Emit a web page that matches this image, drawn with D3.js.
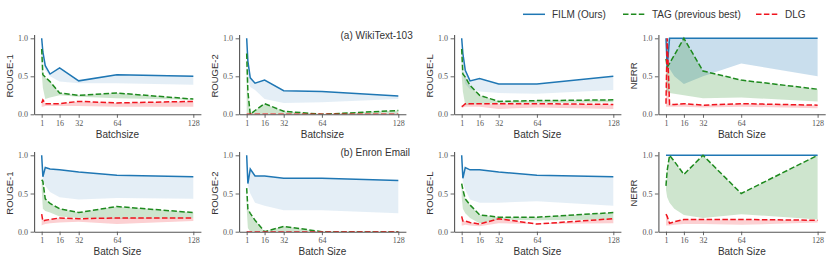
<!DOCTYPE html>
<html>
<head>
<meta charset="utf-8">
<script src="https://cdn.jsdelivr.net/npm/d3@7"></script>
<style>
  body { margin: 0; background: #fff; }
  text { font-family: "Liberation Sans", Arial, sans-serif; fill: #333; }
  .tick text { font-family: "Liberation Serif", serif; fill: #555; }
</style>
</head>
<body>
<svg id="chart" width="831" height="263"></svg>
<script>
// batch sizes on the x axis
const batch = [1, 2, 4, 8, 16, 32, 64, 128];
const xTicks = [1, 16, 32, 64, 128];
const yTicks = [0, 0.5, 1.0];

// (a) WikiText-103
const wikiR1Film   = [1.00, 0.82, 0.64, 0.53, 0.61, 0.44, 0.52, 0.50];
const wikiR1FilmLo = [0.95, 0.70, 0.58, 0.50, 0.43, 0.41, 0.41, 0.39];
const wikiR1FilmHi = [1.00, 0.82, 0.64, 0.53, 0.61, 0.44, 0.53, 0.51];
const wikiR1Tag    = [0.86, 0.52, 0.49, 0.43, 0.28, 0.25, 0.28, 0.20];
const wikiR1TagLo  = [0.55, 0.35, 0.20, 0.22, 0.25, 0.23, 0.21, 0.19];
const wikiR1Dlg    = [0.15, 0.19, 0.14, 0.14, 0.14, 0.17, 0.15, 0.17];
const wikiR1DlgLo  = [0.10, 0.10, 0.11, 0.11, 0.11, 0.11, 0.10, 0.10];

const wikiR2Film   = [1.00, 0.70, 0.48, 0.41, 0.45, 0.31, 0.30, 0.24];
const wikiR2FilmLo = [0.90, 0.45, 0.36, 0.32, 0.20, 0.15, 0.16, 0.20];
const wikiR2Tag    = [0.80, 0.30, 0.00, 0.05, 0.14, 0.04, 0.00, 0.05];
const wikiR2TagLo  = [0.00, 0.00, 0.00, 0.00, 0.00, 0.00, 0.00, 0.00];
const wikiR2Dlg    = [0.00, 0.00, 0.00, 0.00, 0.00, 0.00, 0.00, 0.00];
const wikiR2DlgLo  = [0.00, 0.00, 0.00, 0.00, 0.00, 0.00, 0.00, 0.00];

const wikiRLFilm   = [1.00, 0.80, 0.58, 0.44, 0.47, 0.40, 0.40, 0.50];
const wikiRLFilmLo = [0.90, 0.60, 0.40, 0.33, 0.30, 0.28, 0.27, 0.32];
const wikiRLTag    = [0.86, 0.53, 0.49, 0.38, 0.25, 0.17, 0.18, 0.19];
const wikiRLTagLo  = [0.50, 0.30, 0.12, 0.13, 0.14, 0.15, 0.15, 0.16];
const wikiRLDlg    = [0.10, 0.11, 0.14, 0.14, 0.14, 0.14, 0.14, 0.13];
const wikiRLDlgLo  = [0.08, 0.09, 0.10, 0.10, 0.10, 0.07, 0.09, 0.07];

const wikiNeFilm   = [1.00, 0.62, 1.00, 1.00, 1.00, 1.00, 1.00, 1.00];
const wikiNeFilmLo = [0.60, 0.55, 0.60, 0.50, 0.40, 0.50, 0.67, 0.50];
const wikiNeFilmHi = [1.00, 1.00, 1.00, 1.00, 1.00, 1.00, 1.00, 1.00];
const wikiNeTag    = [0.73, 0.62, 0.67, 0.78, 1.00, 0.57, 0.45, 0.33];
const wikiNeTagLo  = [0.30, 0.29, 0.28, 0.27, 0.25, 0.21, 0.22, 0.17];
const wikiNeDlg    = [0.14, 1.00, 0.13, 0.13, 0.14, 0.12, 0.14, 0.12];
const wikiNeDlgLo  = [0.10, 0.10, 0.10, 0.10, 0.10, 0.09, 0.10, 0.08];

// (b) Enron Email
const enronR1Film   = [1.00, 0.72, 0.84, 0.82, 0.81, 0.78, 0.74, 0.72];
const enronR1FilmLo = [0.95, 0.66, 0.60, 0.52, 0.45, 0.42, 0.44, 0.43];
const enronR1Tag    = [0.68, 0.66, 0.43, 0.37, 0.30, 0.25, 0.33, 0.25];
const enronR1TagLo  = [0.55, 0.30, 0.27, 0.25, 0.20, 0.18, 0.17, 0.18];
const enronR1Dlg    = [0.23, 0.14, 0.15, 0.16, 0.18, 0.17, 0.18, 0.18];
const enronR1DlgLo  = [0.08, 0.09, 0.10, 0.11, 0.12, 0.13, 0.10, 0.14];

const enronR2Film   = [1.00, 0.63, 0.82, 0.73, 0.73, 0.70, 0.70, 0.67];
const enronR2FilmLo = [0.90, 0.60, 0.50, 0.38, 0.34, 0.28, 0.28, 0.24];
const enronR2Tag    = [0.57, 0.30, 0.24, 0.15, 0.00, 0.07, 0.00, 0.00];
const enronR2TagLo  = [0.30, 0.05, 0.00, 0.00, 0.00, 0.00, 0.00, 0.00];
const enronR2Dlg    = [0.00, 0.00, 0.00, 0.00, 0.00, 0.00, 0.00, 0.00];
const enronR2DlgLo  = [0.00, 0.00, 0.00, 0.00, 0.00, 0.00, 0.00, 0.00];

const enronRLFilm   = [1.00, 0.70, 0.84, 0.81, 0.81, 0.78, 0.74, 0.72];
const enronRLFilmLo = [0.95, 0.65, 0.55, 0.42, 0.38, 0.38, 0.40, 0.34];
const enronRLTag    = [0.63, 0.55, 0.43, 0.35, 0.22, 0.19, 0.19, 0.25];
const enronRLTagLo  = [0.45, 0.30, 0.24, 0.18, 0.11, 0.16, 0.15, 0.16];
const enronRLDlg    = [0.20, 0.14, 0.14, 0.12, 0.10, 0.17, 0.10, 0.17];
const enronRLDlgLo  = [0.08, 0.08, 0.09, 0.08, 0.07, 0.11, 0.10, 0.11];

const enronNeFilm   = [1.00, 1.00, 1.00, 1.00, 1.00, 1.00, 1.00, 1.00];
const enronNeFilmLo = [1.00, 1.00, 1.00, 1.00, 1.00, 1.00, 1.00, 1.00];
const enronNeTag    = [0.60, 0.80, 1.00, 0.92, 0.75, 1.00, 0.50, 1.00];
const enronNeTagLo  = [0.55, 0.45, 0.38, 0.30, 0.22, 0.18, 0.23, 0.16];
const enronNeDlg    = [0.23, 0.20, 0.11, 0.13, 0.16, 0.16, 0.16, 0.15];
const enronNeDlgLo  = [0.08, 0.08, 0.08, 0.09, 0.10, 0.10, 0.09, 0.12];

const methods = ['FILM (Ours)', 'TAG (previous best)', 'DLG'];
const yLabels = ['ROUGE-1', 'ROUGE-2', 'ROUGE-L', 'NERR'];
const xLabelsTop = ['Batchsize', 'Batchsize', 'Batch Size', 'Batch Size'];
const xLabelsBottom = ['Batch Size', 'Batch Size', 'Batch Size', 'Batch Size'];
const captions = ['(a) WikiText-103', '(b) Enron Email'];

const rows = [
  [
    {film: wikiR1Film, filmLo: wikiR1FilmLo, filmHi: wikiR1FilmHi, tag: wikiR1Tag, tagLo: wikiR1TagLo, dlg: wikiR1Dlg, dlgLo: wikiR1DlgLo},
    {film: wikiR2Film, filmLo: wikiR2FilmLo, tag: wikiR2Tag, tagLo: wikiR2TagLo, dlg: wikiR2Dlg, dlgLo: wikiR2DlgLo},
    {film: wikiRLFilm, filmLo: wikiRLFilmLo, tag: wikiRLTag, tagLo: wikiRLTagLo, dlg: wikiRLDlg, dlgLo: wikiRLDlgLo},
    {film: wikiNeFilm, filmLo: wikiNeFilmLo, filmHi: wikiNeFilmHi, tag: wikiNeTag, tagLo: wikiNeTagLo, dlg: wikiNeDlg, dlgLo: wikiNeDlgLo, blueAlpha: 0.24}
  ],
  [
    {film: enronR1Film, filmLo: enronR1FilmLo, tag: enronR1Tag, tagLo: enronR1TagLo, dlg: enronR1Dlg, dlgLo: enronR1DlgLo},
    {film: enronR2Film, filmLo: enronR2FilmLo, tag: enronR2Tag, tagLo: enronR2TagLo, dlg: enronR2Dlg, dlgLo: enronR2DlgLo},
    {film: enronRLFilm, filmLo: enronRLFilmLo, tag: enronRLTag, tagLo: enronRLTagLo, dlg: enronRLDlg, dlgLo: enronRLDlgLo},
    {film: enronNeFilm, filmLo: enronNeFilmLo, tag: enronNeTag, tagLo: enronNeTagLo, dlg: enronNeDlg, dlgLo: enronNeDlgLo}
  ]
];

// layout
const colLeft = [34.1, 239.1, 454.1, 658.4];
const axW = 166.8;
const rowBase = [114.3, 231.7];   // pixel of y = 0
const rowUnit = [76, 76.4];       // pixels per 1.0
const colors = {film: '#1f77b4', tag: '#1e8a1e', dlg: '#f0141e'};
const dash = '5.5,2.4';

const svg = d3.select('#chart');

rows.forEach((row, r) => {
  row.forEach((p, c) => {
    const x = d3.scaleLinear().domain([-5.35, 134.35]).range([colLeft[c], colLeft[c] + axW]);
    const y = d3.scaleLinear().domain([0, 1.05]).range([rowBase[r], rowBase[r] - rowUnit[r] * 1.05]);
    const g = svg.append('g');
    const clipId = `clip-${r}-${c}`;
    g.append('clipPath').attr('id', clipId).append('rect')
      .attr('x', x.range()[0]).attr('y', y.range()[1])
      .attr('width', axW).attr('height', y.range()[0] - y.range()[1]);
    const plot = g.append('g').attr('clip-path', `url(#${clipId})`);

    const area = (lo, hi) => d3.area()
      .x((d, i) => x(batch[i]))
      .y0((d, i) => y(lo[i]))
      .y1((d, i) => y(hi[i]))(batch);
    const line = vals => d3.line().x((d, i) => x(batch[i])).y(d => y(d))(vals);

    plot.append('path').attr('d', area(p.filmLo, p.filmHi || p.film))
      .attr('fill', colors.film).attr('fill-opacity', p.blueAlpha || 0.12);
    plot.append('path').attr('d', area(p.tagLo, p.tag))
      .attr('fill', colors.tag).attr('fill-opacity', 0.22);
    plot.append('path').attr('d', area(p.dlgLo, p.dlg))
      .attr('fill', colors.dlg).attr('fill-opacity', 0.2);

    plot.append('path').attr('d', line(p.film)).attr('fill', 'none')
      .attr('stroke', colors.film).attr('stroke-width', 1.5);
    plot.append('path').attr('d', line(p.tag)).attr('fill', 'none')
      .attr('stroke', colors.tag).attr('stroke-width', 1.5).attr('stroke-dasharray', dash);
    plot.append('path').attr('d', line(p.dlg)).attr('fill', 'none')
      .attr('stroke', colors.dlg).attr('stroke-width', 1.5).attr('stroke-dasharray', dash);

    // axes
    const xAxis = g.append('g').attr('transform', `translate(0,${rowBase[r]})`)
      .call(d3.axisBottom(x).tickValues(xTicks).tickSize(3.5).tickPadding(2.5).tickSizeOuter(0));
    const yAxis = g.append('g').attr('transform', `translate(${colLeft[c]},0)`)
      .call(d3.axisLeft(y).tickValues(yTicks).tickFormat(d3.format('.1f')).tickSize(3.5).tickPadding(2.5).tickSizeOuter(0));
    [xAxis, yAxis].forEach(a => {
      a.select('.domain').attr('stroke', '#555').attr('stroke-width', 1.1);
      a.selectAll('.tick line').attr('stroke', '#555').attr('stroke-width', 0.9);
      a.selectAll('.tick text').style('font-size', '8px');
    });

    const xl = r === 0 ? xLabelsTop[c] : xLabelsBottom[c];
    g.append('text').attr('x', colLeft[c] + axW / 2).attr('y', rowBase[r] + 23.5)
      .attr('text-anchor', 'middle').style('font-size', '10px').text(xl);
    const yMid = (y.range()[0] + y.range()[1]) / 2 + 1.5;
    g.append('text').attr('transform', `translate(${colLeft[c] - 21},${yMid}) rotate(-90)`)
      .attr('text-anchor', 'middle').style('font-size', '9.5px').text(yLabels[c]);
  });
});

// captions
svg.append('text').attr('x', 340.5).attr('y', 38.8).style('font-size', '10px').text(captions[0]);
svg.append('text').attr('x', 340.5).attr('y', 156.3).style('font-size', '10px').text(captions[1]);

// legend
const legX = [523, 623, 756];
const legKeys = ['film', 'tag', 'dlg'];
methods.forEach((m, i) => {
  const k = legKeys[i];
  svg.append('line').attr('x1', legX[i]).attr('x2', legX[i] + 22).attr('y1', 14.3).attr('y2', 14.3)
    .attr('stroke', colors[k]).attr('stroke-width', 1.5)
    .attr('stroke-dasharray', k === 'film' ? null : dash);
  svg.append('text').attr('x', legX[i] + 29).attr('y', 17.8).style('font-size', '10px').text(m);
});
</script>
</body>
</html>
